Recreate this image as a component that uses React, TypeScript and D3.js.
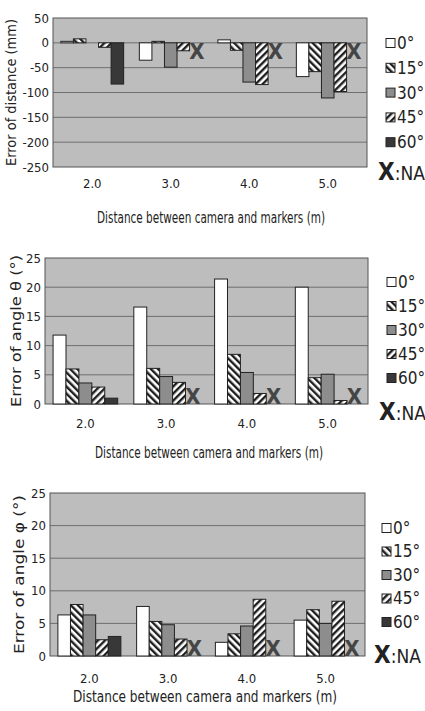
import React from "react";
import * as d3 from "d3";

// distance between camera and markers (m)
const distances = ["2.0", "3.0", "4.0", "5.0"];
// marker angle series
const angles = ["0°", "15°", "30°", "45°", "60°"];

// one row per distance, one value per angle (null = NA)
const distanceError: (number | null)[][] = [
  [3, 8, 0, -9, -83],
  [-35, 3, -49, -16, null],
  [6, -15, -79, -84, null],
  [-68, -58, -111, -98, null],
];
const thetaError: (number | null)[][] = [
  [11.8, 6.0, 3.6, 2.9, 1.0],
  [16.6, 6.1, 4.7, 3.7, null],
  [21.4, 8.5, 5.4, 1.8, null],
  [20.0, 4.5, 5.1, 0.6, null],
];
const phiError: (number | null)[][] = [
  [6.3, 7.9, 6.3, 2.5, 3.0],
  [7.6, 5.3, 4.8, 2.6, null],
  [2.1, 3.4, 4.6, 8.7, null],
  [5.5, 7.1, 5.0, 8.4, null],
];

const distanceTicks = [50, 0, -50, -100, -150, -200, -250];
const angleTicks = [0, 5, 10, 15, 20, 25];

const fills = ["#ffffff", "url(#hatch15)", "#8d8d8d", "url(#hatch45)", "#383838"];
const FONT = "'DejaVu Sans Condensed', 'Liberation Sans Narrow', sans-serif";

type ChartProps = {
  values: (number | null)[][];
  domain: [number, number];
  ticks: number[];
  left: number;
  right: number;
  top: number;
  bottom: number;
  yLabel: string;
  yLabelX: number;
  yLabelLen: number;
  tickY: number;
  titleY: number;
  titleX: number;
  titleLen: number;
  naHangs: boolean;
  legX: number;
  legY: number;
  legStep: number;
  naY: number;
};

function Chart(p: ChartProps) {
  const x0 = d3
    .scaleBand()
    .domain(distances)
    .range([p.left, p.right])
    .paddingInner(0.2)
    .paddingOuter(0.1);
  const x1 = d3.scaleBand().domain(angles).range([0, x0.bandwidth()]);
  const y = d3.scaleLinear().domain(p.domain).range([p.bottom, p.top]);
  const zero = y(0);
  const yMid = (p.top + p.bottom) / 2;

  return (
    <g>
      <rect
        x={p.left}
        y={p.top}
        width={p.right - p.left}
        height={p.bottom - p.top}
        fill="#bdbdbd"
        stroke="#555"
        strokeWidth={1}
      />
      {p.ticks.map((t) => (
        <g key={t}>
          {t !== p.domain[0] && t !== p.domain[1] && (
            <line x1={p.left} x2={p.right} y1={y(t)} y2={y(t)} stroke="#5a5a5a" strokeWidth={0.8} />
          )}
          <text
            x={p.left - 4}
            y={y(t)}
            dy="0.35em"
            textAnchor="end"
            fontSize={13}
            fill="#222"
            fontFamily={FONT}
          >
            {t}
          </text>
        </g>
      ))}
      {distances.map((d, i) => (
        <g key={d} transform={`translate(${x0(d)},0)`}>
          {p.values[i].map((v, j) => {
            const bx = x1(angles[j])!;
            const bw = x1.bandwidth();
            if (v === null) {
              return (
                <text
                  key={j}
                  x={bx + bw / 2 + 1}
                  y={p.naHangs ? zero + 8 : zero - 8}
                  dy="0.35em"
                  textAnchor="middle"
                  fontSize={22}
                  fontWeight="bold"
                  fill="#454545"
                  fontFamily={FONT}
                >
                  X
                </text>
              );
            }
            return (
              <rect
                key={j}
                x={bx}
                y={Math.min(y(v), zero)}
                width={bw}
                height={Math.abs(y(v) - zero)}
                fill={fills[j]}
                stroke="#222"
                strokeWidth={1}
              />
            );
          })}
        </g>
      ))}
      {distances.map((d) => (
        <text
          key={d}
          x={x0(d)! + x0.bandwidth() / 2}
          y={p.tickY}
          textAnchor="middle"
          fontSize={13}
          fill="#222"
          fontFamily={FONT}
        >
          {d}
        </text>
      ))}
      <text
        transform={`translate(${p.yLabelX},${yMid}) rotate(-90)`}
        textAnchor="middle"
        dy="0.35em"
        fontSize={14}
        fill="#222"
        fontFamily={FONT}
        textLength={p.yLabelLen}
        lengthAdjust="spacingAndGlyphs"
      >
        {p.yLabel}
      </text>
      <text
        x={p.titleX}
        y={p.titleY}
        textAnchor="middle"
        fontSize={16}
        fill="#222"
        fontFamily={FONT}
        textLength={p.titleLen}
        lengthAdjust="spacingAndGlyphs"
      >
        Distance between camera and markers (m)
      </text>
      {angles.map((a, j) => (
        <g key={a} transform={`translate(${p.legX},${p.legY + j * p.legStep})`}>
          <rect x={0} y={-4.5} width={9} height={9} fill={fills[j]} stroke="#222" strokeWidth={1} />
          <text x={11} y={0} dy="0.35em" fontSize={17} fill="#222" fontFamily={FONT}>
            {a}
          </text>
        </g>
      ))}
      <text x={p.legX - 8} y={p.naY} dy="0.35em" fontSize={24} fill="#222" fontFamily={FONT}>
        <tspan fontWeight="bold">X</tspan>
        <tspan fontSize={19}>:NA</tspan>
      </text>
    </g>
  );
}

export default function App() {
  return (
    <svg
      width={425}
      height={711}
      style={{ position: "absolute", left: 0, top: 0, background: "#fff" }}
    >
      <defs>
        <pattern id="hatch15" width={5} height={5} patternUnits="userSpaceOnUse" patternTransform="rotate(-45)">
          <rect width={5} height={5} fill="#fff" />
          <rect width={2.4} height={5} fill="#1e1e1e" />
        </pattern>
        <pattern id="hatch45" width={5} height={5} patternUnits="userSpaceOnUse" patternTransform="rotate(45)">
          <rect width={5} height={5} fill="#fff" />
          <rect width={2.4} height={5} fill="#1e1e1e" />
        </pattern>
      </defs>
      <Chart
        values={distanceError}
        domain={[-250, 50]}
        ticks={distanceTicks}
        left={53}
        right={367}
        top={18}
        bottom={167}
        yLabel="Error of distance (mm)"
        yLabelX={11}
        yLabelLen={147}
        tickY={188}
        titleY={223}
        titleX={211}
        titleLen={228}
        naHangs={true}
        legX={386}
        legY={43}
        legStep={24.8}
        naY={172}
      />
      <Chart
        values={thetaError}
        domain={[0, 25]}
        ticks={angleTicks}
        left={45}
        right={368}
        top={258}
        bottom={404}
        yLabel="Error of angle θ (°)"
        yLabelX={16}
        yLabelLen={152}
        tickY={428}
        titleY={458}
        titleX={209}
        titleLen={228}
        naHangs={false}
        legX={387}
        legY={282}
        legStep={24}
        naY={412}
      />
      <Chart
        values={phiError}
        domain={[0, 25]}
        ticks={angleTicks}
        left={50}
        right={365}
        top={493}
        bottom={656}
        yLabel="Error of angle φ (°)"
        yLabelX={19}
        yLabelLen={159}
        tickY={683}
        titleY={702}
        titleX={205}
        titleLen={264}
        naHangs={false}
        legX={382}
        legY={528}
        legStep={23.5}
        naY={655}
      />
    </svg>
  );
}
